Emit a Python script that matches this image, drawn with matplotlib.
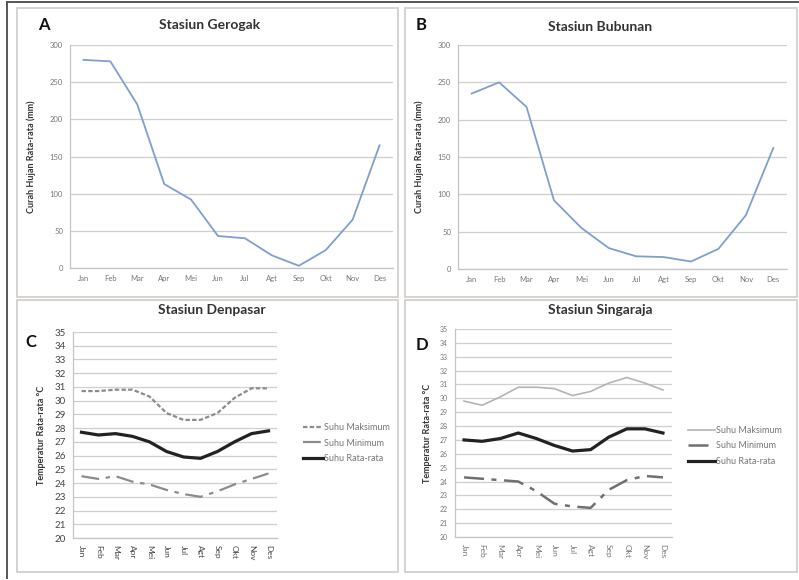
import numpy as np
import matplotlib
matplotlib.use('Agg')
import matplotlib.pyplot as plt
from matplotlib.lines import Line2D
from matplotlib.patches import Rectangle

plt.rcParams['font.family'] = ['Lato', 'DejaVu Sans']

months = ['Jan', 'Feb', 'Mar', 'Apr', 'Mei', 'Jun', 'Jul', 'Agt', 'Sep', 'Okt', 'Nov', 'Des']

# curah hujan rata-rata (mm)
hujan_gerogak = [280, 278, 220, 113, 92, 43, 40, 17, 3, 24, 65, 165]
hujan_bubunan = [235, 250, 217, 92, 55, 28, 17, 16, 10, 27, 72, 162]

# suhu (°C)
denpasar_maks = [30.7, 30.7, 30.8, 30.8, 30.3, 29.1, 28.6, 28.6, 29.1, 30.2, 30.9, 30.9]
denpasar_min = [24.5, 24.3, 24.5, 24.1, 23.9, 23.5, 23.2, 23.0, 23.4, 23.9, 24.3, 24.7]
denpasar_rata = [27.7, 27.5, 27.6, 27.4, 27.0, 26.3, 25.9, 25.8, 26.3, 27.0, 27.6, 27.8]

singaraja_maks = [29.8, 29.5, 30.1, 30.8, 30.8, 30.7, 30.2, 30.5, 31.1, 31.5, 31.1, 30.6]
singaraja_min = [24.3, 24.2, 24.1, 24.0, 23.3, 22.4, 22.2, 22.1, 23.4, 24.1, 24.4, 24.3]
singaraja_rata = [27.0, 26.9, 27.1, 27.5, 27.1, 26.6, 26.2, 26.3, 27.2, 27.8, 27.8, 27.5]

W, H = 799, 580
fig = plt.figure(figsize=(W / 100, H / 100), dpi=100)
fig.patch.set_facecolor('white')


def fx(x):
    return x / W


def fy(y):
    return 1 - y / H


def add_ax(x0, y0, x1, y1):
    return fig.add_axes([fx(x0), fy(y1), fx(x1) - fx(x0), fy(y0) - fy(y1)])


def style_ax(ax, ymin, ymax, step, tick_size, tick_color):
    ax.set_xlim(-0.5, 11.5)
    ax.set_ylim(ymin, ymax)
    ax.set_yticks(np.arange(ymin, ymax + step / 2, step))
    ax.set_xticks(range(12))
    ax.grid(axis='y', color='#cfcfcf', lw=0.9)
    ax.set_axisbelow(True)
    for s in ['top', 'right']:
        ax.spines[s].set_visible(False)
    for s in ['left', 'bottom']:
        ax.spines[s].set_color('#c4c4c4')
        ax.spines[s].set_linewidth(0.9)
    ax.tick_params(length=0, labelsize=tick_size, labelcolor=tick_color, pad=5)


# panel borders and outer frame
for (x0, y0, x1, y1) in [(17, 8, 398, 297), (405, 8, 797, 297), (17, 300, 398, 572), (405, 300, 797, 572)]:
    fig.patches.append(Rectangle((fx(x0), fy(y1)), fx(x1) - fx(x0), fy(y0) - fy(y1),
                                 transform=fig.transFigure, fill=False, ec='#d2cfcc', lw=1.3))
fig.lines.append(Line2D([fx(7), fx(7)], [fy(2), fy(578)], transform=fig.transFigure, color='#555', lw=1.4))
fig.lines.append(Line2D([fx(7), fx(798)], [fy(2), fy(2)], transform=fig.transFigure, color='#555', lw=1.4))

x = np.arange(12)
blue = '#7f9fcf'

# A
axA = add_ax(70, 45, 393, 268)
style_ax(axA, 0, 300, 50, 5.5, '#777')
axA.plot(x, hujan_gerogak, color=blue, lw=1.3)
axA.set_xticklabels(months)
axA.set_ylabel('Curah Hujan Rata-rata (mm)', fontsize=6.5, fontweight='bold', color='#333', labelpad=10)
fig.text(fx(210), fy(25), 'Stasiun Gerogak', ha='center', va='center', fontsize=10, fontweight='bold', color='#333')
fig.text(fx(38), fy(25), 'A', ha='left', va='center', fontsize=12, fontweight='bold', color='#111')

# B
axB = add_ax(458, 45, 787, 269)
style_ax(axB, 0, 300, 50, 5.5, '#777')
axB.plot(x, hujan_bubunan, color=blue, lw=1.3)
axB.set_xticklabels(months)
axB.set_ylabel('Curah Hujan Rata-rata (mm)', fontsize=6.5, fontweight='bold', color='#333', labelpad=10)
fig.text(fx(600), fy(27), 'Stasiun Bubunan', ha='center', va='center', fontsize=10, fontweight='bold', color='#333')
fig.text(fx(416), fy(25), 'B', ha='left', va='center', fontsize=12, fontweight='bold', color='#111')

# C
axC = add_ax(73, 332, 277, 538)
style_ax(axC, 20, 35, 1, 7, '#444')
axC.plot(x, denpasar_maks, color='#8c8c8c', lw=1.6, dashes=(2, 1), label='Suhu Maksimum')
axC.plot(x, denpasar_min, color='#8c8c8c', lw=1.6, dashes=(8, 3, 2, 3), label='Suhu Minimum')
axC.plot(x, denpasar_rata, color='#222', lw=2.3, label='Suhu Rata-rata')
axC.set_xticklabels(months, rotation=-90, fontsize=6)
axC.set_ylabel('Temperatur Rata-rata °C', fontsize=6.5, fontweight='bold', color='#333', labelpad=6)
axC.legend(loc='center left', bbox_to_anchor=(fx(295), fy(443)), bbox_transform=fig.transFigure,
           frameon=False, fontsize=6.5, handlelength=2.2, handletextpad=0.1, labelspacing=0.7,
           labelcolor='#777')
fig.text(fx(212), fy(310), 'Stasiun Denpasar', ha='center', va='center', fontsize=10, fontweight='bold', color='#333')
fig.text(fx(25), fy(342), 'C', ha='left', va='center', fontsize=12, fontweight='bold', color='#111')

# D
axD = add_ax(455, 329, 672, 537)
style_ax(axD, 20, 35, 1, 5, '#777')
axD.plot(x, singaraja_maks, color='#b4b4b4', lw=1.2, label='Suhu Maksimum')
axD.plot(x, singaraja_min, color='#707070', lw=1.8, dashes=(8, 3, 2, 3), label='Suhu Minimum')
axD.plot(x, singaraja_rata, color='#222', lw=2.3, label='Suhu Rata-rata')
axD.set_xticklabels(months, rotation=-90, fontsize=6)
axD.set_ylabel('Temperatur Rata-rata °C', fontsize=6.5, fontweight='bold', color='#333', labelpad=6)
axD.legend(loc='center left', bbox_to_anchor=(fx(680), fy(446)), bbox_transform=fig.transFigure,
           frameon=False, fontsize=6.5, handlelength=3.0, handletextpad=0.1, labelspacing=0.7,
           labelcolor='#777')
fig.text(fx(600), fy(310), 'Stasiun Singaraja', ha='center', va='center', fontsize=10, fontweight='bold', color='#333')
fig.text(fx(416), fy(345), 'D', ha='left', va='center', fontsize=12, fontweight='bold', color='#111')

fig.savefig('out.png', dpi=100)
